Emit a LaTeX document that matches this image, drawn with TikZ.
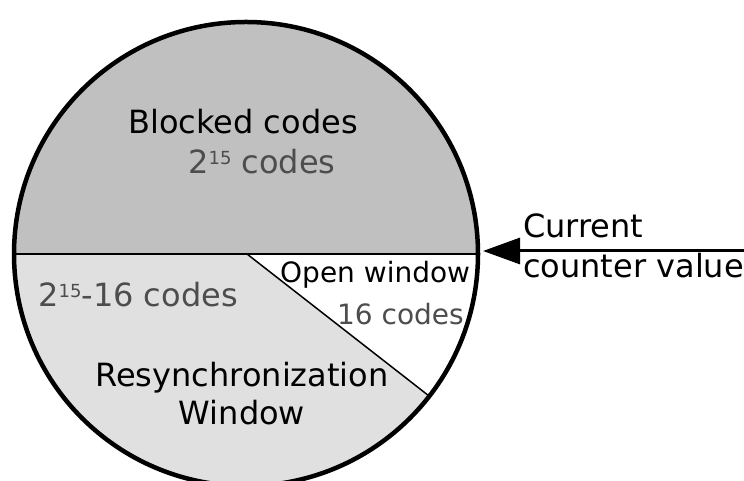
\documentclass[tikz,border=0pt]{standalone}
\usepackage{fontspec}
\setmainfont{DejaVu Sans}
\usetikzlibrary{arrows.meta,calc}
\definecolor{blockgray}{HTML}{C0C0C0}
\definecolor{resyncgray}{HTML}{E0E0E0}
\definecolor{codegray}{HTML}{4D4D4D}
\newcommand{\supnum}[1]{\raisebox{9pt}{\fontsize{18}{18}\selectfont #1}}
\tikzset{
  bigtext/.style={font=\fontsize{32}{38}\selectfont, text=black, inner sep=0pt},
  smalltext/.style={font=\fontsize{28}{34}\selectfont, text=black, inner sep=0pt},
  graytext/.style={text=codegray},
  divline/.style={line width=1.5pt, black},
  rim/.style={line width=4.5pt, black},
}
\begin{document}
\begin{tikzpicture}[x=1pt,y=1pt]
\useasboundingbox (0,0) rectangle (744,481);
\coordinate (c) at (246,227);
\def\R{232}
% sectors
\fill[blockgray] (c) -- ++(0:\R) arc[start angle=0, end angle=180, radius=\R] -- cycle;
\fill[resyncgray] (c) -- ++(180:\R) arc[start angle=180, end angle=322.2, radius=\R] -- cycle;
\fill[white] (c) -- ++(322.2:\R) arc[start angle=322.2, end angle=360, radius=\R] -- cycle;
% divider lines
\coordinate (w) at (14,227);
\coordinate (e) at (478,227);
\coordinate (o) at (247,227);
\coordinate (s) at ($(c)+(322.2:\R)$);
\draw[divline] (w) -- (e);
\draw[divline] (o) -- (s);
% rim
\draw[rim] (c) circle[radius=\R];
% texts
\node[bigtext, anchor=base] (blk) at (243,347) {Blocked codes};
\node[bigtext, graytext, anchor=base] (blkn) at (262,307) {2\supnum{15} codes};
\node[bigtext, graytext, anchor=base west] (rsn) at (38,174) {2\supnum{15}-16 codes};
\node[bigtext, anchor=base] (rs1) at (242,94) {Resynchronization};
\node[bigtext, anchor=base] (rs2) at (242,56) {Window};
\node[smalltext, anchor=base west] (ow) at (280,198) {Open window};
\node[smalltext, graytext, anchor=base east] (own) at (464,156) {16 codes};
\node[bigtext, anchor=base west] (cur1) at (523,243) {Current};
\node[bigtext, anchor=base west] (cur2) at (523,203) {counter value};
% arrow
\coordinate (astart) at (744,230);
\coordinate (atip) at (483,230);
\draw[line width=3pt, -{Triangle[length=37pt,width=26pt]}] (astart) -- (atip);
\end{tikzpicture}
\end{document}
